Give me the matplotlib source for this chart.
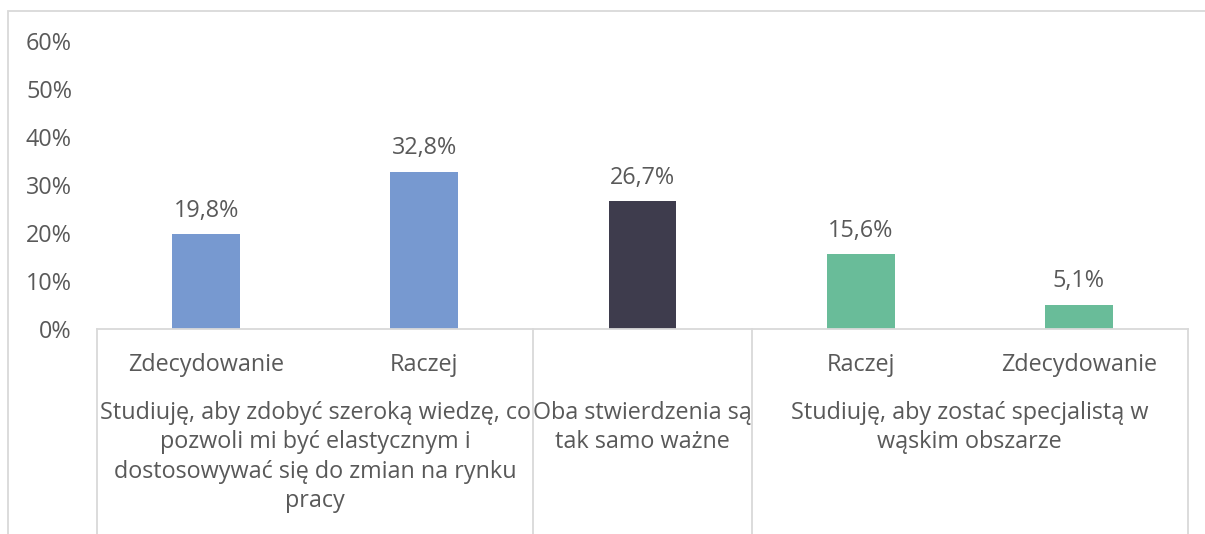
import matplotlib
matplotlib.use("Agg")
import matplotlib.pyplot as plt
from matplotlib.patches import Rectangle
from matplotlib.lines import Line2D
import matplotlib.transforms as mtransforms

# ---- data ----
sub_labels = ["Zdecydowanie", "Raczej", "", "Raczej", "Zdecydowanie"]
values = [19.8, 32.8, 26.7, 15.6, 5.1]
value_labels = ["19,8%", "32,8%", "26,7%", "15,6%", "5,1%"]
group_labels = [
    "Studiuję, aby zdobyć szeroką wiedzę, co\npozwoli mi być elastycznym i\ndostosowywać się do zmian na rynku\npracy",
    "Oba stwierdzenia są\ntak samo ważne",
    "Studiuję, aby zostać specjalistą w\nwąskim obszarze",
]
group_spans = [(0, 1), (2, 2), (3, 4)]
bar_colors = ["#7799D0", "#7799D0", "#3E3C4D", "#69BC99", "#69BC99"]
y_ticks = [0, 10, 20, 30, 40, 50, 60]
y_tick_labels = ["0%", "10%", "20%", "30%", "40%", "50%", "60%"]

TEXT = "#595959"
GRID = "#D9D9D9"
FONT = "Open Sans"
FS = 16.8

W, H = 1205, 534
fig = plt.figure(figsize=(W / 100, H / 100), dpi=100)
plt.rcParams["font.family"] = [FONT, "DejaVu Sans"]

# chart outer border
fig.patches.append(Rectangle((8 / W, -0.1), 1.2, (H - 11) / H + 0.1,
                             transform=fig.transFigure, fill=False,
                             edgecolor=GRID, linewidth=1.3, zorder=0))

ax = fig.add_axes([97 / W, (H - 329) / H, (1188 - 97) / W, (329 - 41) / H])
x = list(range(len(values)))
ax.bar(x, values, width=0.31, color=bar_colors, zorder=2)
ax.set_xlim(-0.5, len(values) - 0.5)
ax.set_ylim(0, 60)
ax.set_yticks(y_ticks)
ax.set_yticklabels(y_tick_labels, fontsize=FS, color=TEXT)
ax.tick_params(axis="y", length=0, pad=18)
ax.set_xticks([])
for s in ["top", "right", "left"]:
    ax.spines[s].set_visible(False)
ax.spines["bottom"].set_color(GRID)
ax.spines["bottom"].set_linewidth(1.3)

for xi, v, lab in zip(x, values, value_labels):
    ax.annotate(lab, (xi, v), xytext=(0, 8), textcoords="offset points",
                ha="center", va="bottom", fontsize=FS, color=TEXT)

trans = mtransforms.blended_transform_factory(ax.transData, ax.transAxes)
px = 1 / (329 - 41)  # one pixel in axes fraction (vertical)

# first-level category labels
for xi, lab in zip(x, sub_labels):
    if lab:
        ax.text(xi, -(365 - 329) * px, lab, transform=trans, ha="center",
                va="center", fontsize=FS, color=TEXT, clip_on=False)

# group labels
for (a, b), lab in zip(group_spans, group_labels):
    ax.text((a + b) / 2, -(401 - 329) * px, lab, transform=trans, ha="center",
            va="top", fontsize=FS, color=TEXT, linespacing=1.3, clip_on=False)

# separators
bounds = [-0.5] + [b + 0.5 for (_, b) in group_spans]
for bx in bounds:
    ax.add_line(Line2D([bx, bx], [0, -1.0], transform=trans, color=GRID,
                       linewidth=1.3, clip_on=False))

fig.savefig("out.png", dpi=100)
